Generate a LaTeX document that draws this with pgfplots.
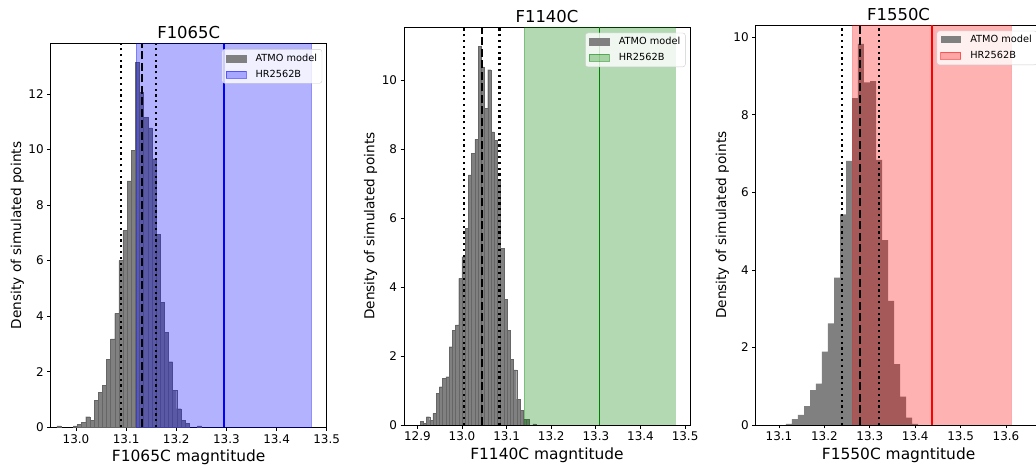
\documentclass[border=0pt]{standalone}
\usepackage{fontspec}
\setmainfont{DejaVu Sans}
\usepackage{pgfplots}
\usepackage{pgfplotstable}
\pgfplotsset{compat=1.18}

\definecolor{mplgreen}{rgb}{0,0.5,0}

% Histogram bins (centre, density) of the simulated ATMO magnitudes
\pgfplotstableread{
x h
12.9657 0.05
12.9987 0.05
13.0070 0.10
13.0152 0.17
13.0235 0.38
13.0317 0.24
13.0400 0.98
13.0482 1.27
13.0565 1.52
13.0647 2.45
13.0730 3.18
13.0812 4.10
13.0895 6.00
13.0977 7.08
13.1060 8.87
13.1142 9.98
13.1225 13.15
13.1307 12.06
13.1390 11.15
13.1472 10.78
13.1555 9.66
13.1637 6.95
13.1720 4.51
13.1802 3.42
13.1885 2.36
13.1967 1.32
13.2050 0.67
13.2132 0.24
13.2215 0.14
13.2462 0.05
}\histA

\pgfplotstableread{
x h
12.9096 0.10
12.9168 0.05
12.9240 0.24
12.9313 0.14
12.9385 0.34
12.9457 0.92
12.9529 1.11
12.9601 1.35
12.9674 1.40
12.9746 2.27
12.9818 2.75
12.9890 2.90
12.9962 4.25
13.0035 4.88
13.0107 5.70
13.0179 7.25
13.0251 7.87
13.0323 8.28
13.0396 10.98
13.0468 10.38
13.0540 9.18
13.0612 10.30
13.0684 8.50
13.0757 8.25
13.0829 7.10
13.0901 5.12
13.0973 3.65
13.1045 2.75
13.1118 1.90
13.1190 1.60
13.1262 0.75
13.1334 0.42
13.1406 0.17
13.1479 0.17
13.1623 0.03
}\histB

\pgfplotstableread{
x h
13.1220 0.03
13.1352 0.15
13.1484 0.26
13.1617 0.49
13.1749 0.90
13.1881 1.07
13.2013 1.89
13.2145 2.62
13.2278 3.80
13.2410 5.43
13.2542 6.81
13.2674 8.43
13.2806 9.83
13.2939 8.84
13.3071 8.87
13.3203 6.84
13.3335 4.77
13.3467 3.20
13.3600 1.57
13.3732 0.73
13.3864 0.19
13.3996 0.03
}\histC

\pgfplotsset{
  magpanel/.style={
    scale only axis,
    axis line style={line width=0.8bp},
    tick align=outside,
    tick pos=left,
    major tick length=3.5bp,
    every tick/.append style={black, line width=0.8bp},
    /pgf/number format/assume math mode=true,
    tick label style={font=\fontsize{12}{14}\selectfont},
    x tick label style={/pgf/number format/.cd, fixed, fixed zerofill, precision=1, /tikz/.cd},
    y tick label style={/pgf/number format/.cd, fixed, precision=0, /tikz/.cd},
    every axis title/.style={at={(axis description cs:0.5,1)}, yshift=5bp, anchor=base,
      font=\fontsize{16.5}{19}\selectfont},
    every axis x label/.style={at={(axis description cs:0.5,0)}, yshift=-34bp, anchor=base,
      font=\fontsize{15.5}{18}\selectfont},
    every axis y label/.style={at={(axis description cs:0,0.5)}, xshift=-29.7bp, rotate=90, anchor=base,
      font=\fontsize{13.7}{16}\selectfont},
    ylabel={Density of simulated points},
    ymin=0,
    legend cell align=left,
    legend style={at={(axis description cs:1,1)}, anchor=north east, xshift=-4.5bp, yshift=-5.5bp,
      draw=black!20, rounded corners=2.5pt, fill=white, fill opacity=0.8, draw opacity=1, text opacity=1,
      font=\fontsize{9.8}{11.5}\selectfont, inner xsep=3.5bp, inner ysep=3bp,
      nodes={inner sep=1.5bp}, row sep=4.2bp,
      /tikz/every odd column/.append style={column sep=8bp}},
  },
  histbars/.style={ybar, bar shift=0pt, bar width=#1, fill=gray, draw=black!60, line width=0.3bp,
    legend image code/.code={\fill[gray, fill opacity=1, sharp corners] (0bp,-3.5bp) rectangle (20bp,3.5bp);}},
  spanpatch/.style={legend image code/.code={\draw[sharp corners, fill=#1, fill opacity=0.3, draw=#1, draw opacity=0.5] (0bp,-3.5bp) rectangle (20bp,3.5bp);}},
  medianline/.style={black, line width=2.2bp, dash pattern=on 8bp off 3.5bp, forget plot},
  quantline/.style={black, line width=2.2bp, dash pattern=on 2.2bp off 3.6bp, forget plot},
}

\begin{document}
\begin{tikzpicture}
\useasboundingbox (0,0) rectangle (1036bp,468bp);

% ---------------- F1065C ----------------
\begin{axis}[magpanel,
  at={(50.7bp,40.7bp)}, anchor=south west,
  width=276bp, height=383.6bp,
  xmin=12.9495, xmax=13.5, ymax=13.81,
  xtick={13.0,13.1,13.2,13.3,13.4,13.5},
  ytick={0,2,4,6,8,10,12},
  title={F1065C}, xlabel={F1065C magntitude}]
\addplot[histbars=0.00825] table[x=x, y=h] {\histA};
\addlegendentry{ATMO model}
\addplot[fill=blue, fill opacity=0.3, draw=blue, draw opacity=0.3, spanpatch=blue]
  coordinates {(13.12,0) (13.12,13.81) (13.47,13.81) (13.47,0)} \closedcycle;
\addlegendentry{HR2562B}
\addplot[blue, line width=1.6bp, forget plot] coordinates {(13.295,0) (13.295,13.81)};
\addplot[medianline] coordinates {(13.131,0) (13.131,13.81)};
\addplot[quantline] coordinates {(13.0898,0) (13.0898,13.81)};
\addplot[quantline] coordinates {(13.160,0) (13.160,13.81)};
\end{axis}

% ---------------- F1140C ----------------
\begin{axis}[magpanel,
  at={(404bp,43bp)}, anchor=south west,
  width=286bp, height=397.7bp,
  xmin=12.870, xmax=13.511, ymax=11.53,
  xtick={12.9,13.0,13.1,13.2,13.3,13.4,13.5},
  ytick={0,2,4,6,8,10},
  title={F1140C}, xlabel={F1140C magntitude}]
\addplot[histbars=0.00722] table[x=x, y=h] {\histB};
\addlegendentry{ATMO model}
\addplot[fill=mplgreen, fill opacity=0.3, draw=mplgreen, draw opacity=0.3, spanpatch=mplgreen]
  coordinates {(13.139,0) (13.139,11.53) (13.477,11.53) (13.477,0)} \closedcycle;
\addlegendentry{HR2562B}
\addplot[mplgreen, line width=1.3bp, forget plot] coordinates {(13.308,0) (13.308,11.53)};
\addplot[medianline] coordinates {(13.045,0) (13.045,11.53)};
\addplot[quantline] coordinates {(13.005,0) (13.005,11.53)};
\addplot[quantline] coordinates {(13.084,0) (13.084,11.53)};
\end{axis}

% ---------------- F1550C ----------------
\begin{axis}[magpanel,
  at={(755.7bp,43bp)}, anchor=south west,
  width=285.8bp, height=399.7bp,
  xmin=13.0487, xmax=13.6782, ymax=10.31,
  xtick={13.1,13.2,13.3,13.4,13.5,13.6},
  ytick={0,2,4,6,8,10},
  title={F1550C}, xlabel={F1550C magntitude}]
\addplot[histbars=0.01322, draw=none] table[x=x, y=h] {\histC};
\addlegendentry{ATMO model}
\addplot[fill=red, fill opacity=0.3, draw=red, draw opacity=0.3, spanpatch=red]
  coordinates {(13.262,0) (13.262,10.31) (13.611,10.31) (13.611,0)} \closedcycle;
\addlegendentry{HR2562B}
\addplot[red, line width=1.6bp, forget plot] coordinates {(13.437,0) (13.437,10.31)};
\addplot[medianline] coordinates {(13.2784,0) (13.2784,10.31)};
\addplot[quantline] coordinates {(13.2395,0) (13.2395,10.31)};
\addplot[quantline] coordinates {(13.3196,0) (13.3196,10.31)};
\end{axis}
\end{tikzpicture}
\end{document}
